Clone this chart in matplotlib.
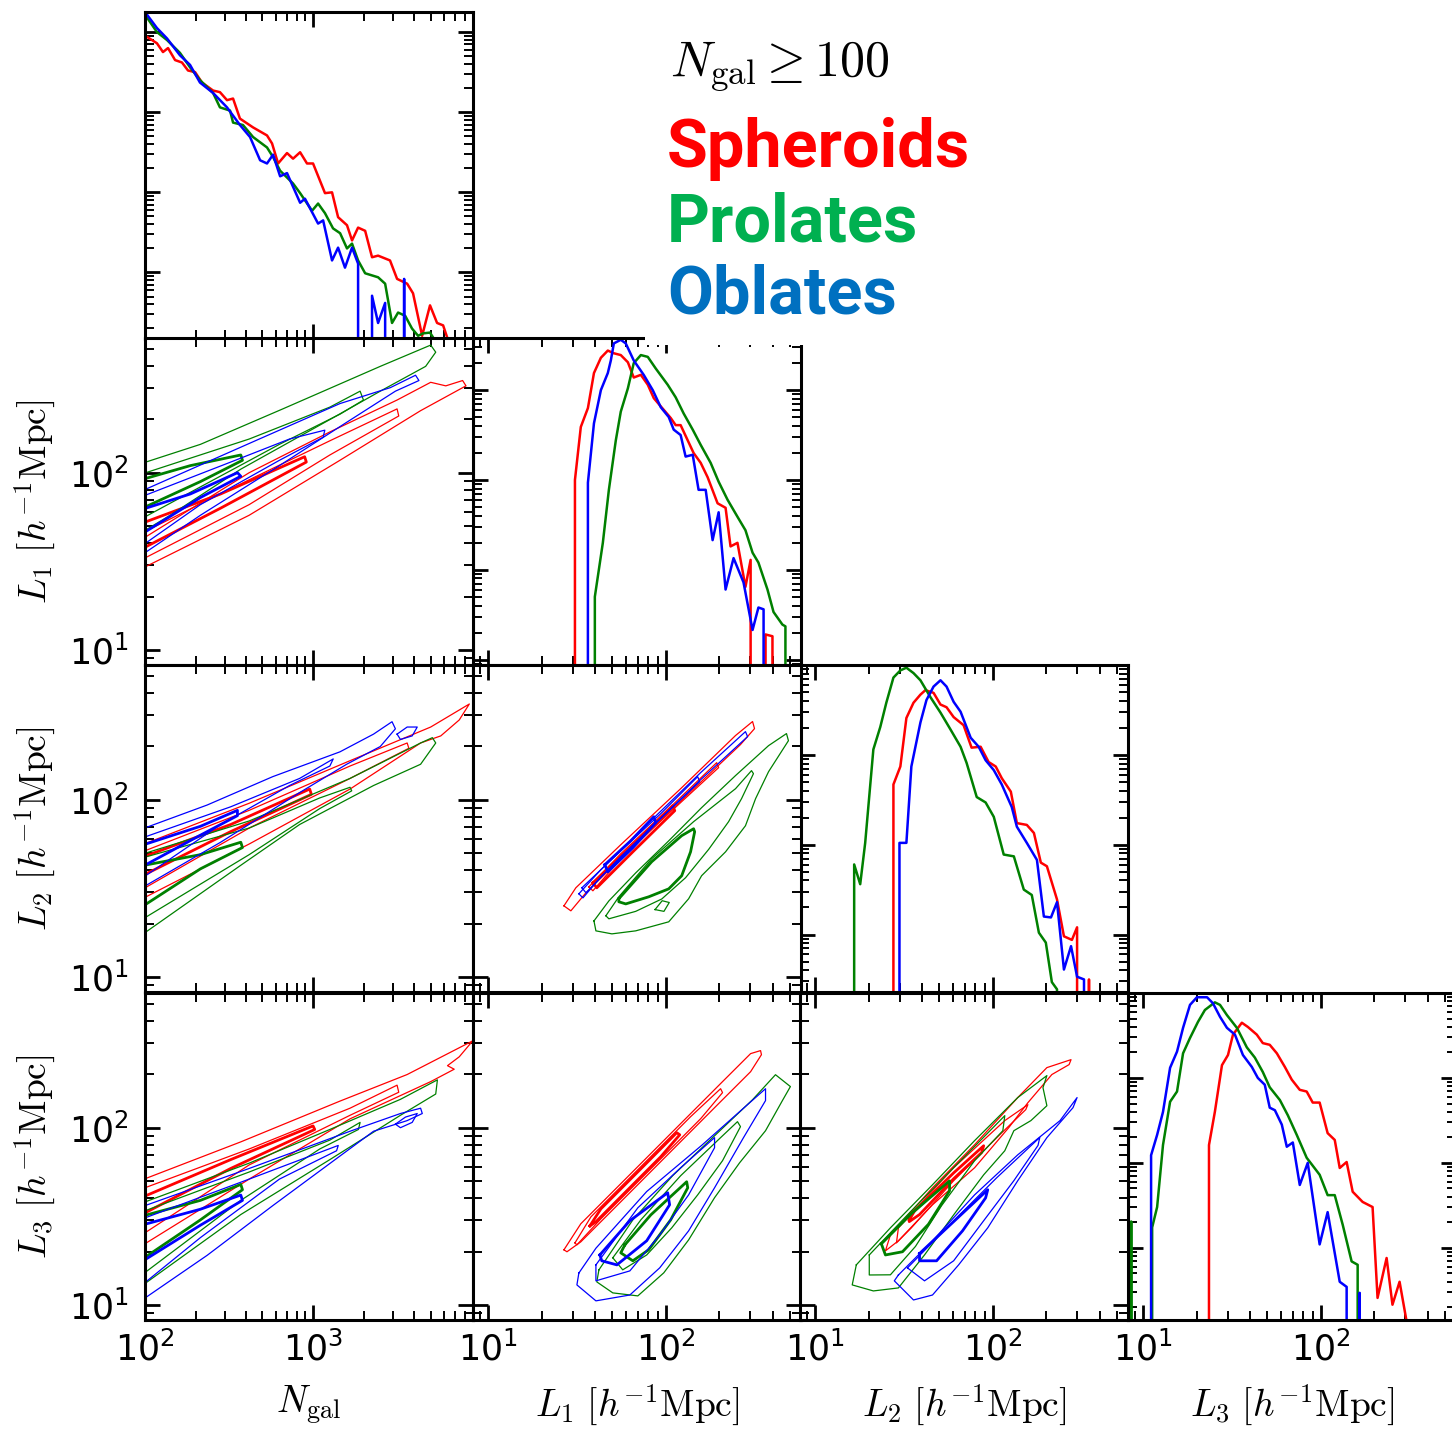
import numpy as np
import matplotlib.pyplot as plt
from matplotlib.patches import Rectangle
from matplotlib.ticker import LogLocator, NullFormatter

E = -np.inf  # log10 of an empty bin

# ---------------- 1D distributions (log10 bin centre, log10 density) ----------------
ngal_x_red = [2.012, 2.071, 2.107, 2.137, 2.179, 2.220, 2.256, 2.298, 2.339, 2.405, 2.446, 2.488,
              2.524, 2.565, 2.643, 2.726, 2.756, 2.792, 2.845, 2.881, 2.923, 2.964, 3.000, 3.071,
              3.113, 3.149, 3.202, 3.232, 3.268, 3.310, 3.351, 3.387, 3.458, 3.500, 3.560, 3.595,
              3.649, 3.696, 3.738, 3.774, 3.798, 3.83]
ngal_y_red = [-0.06, -0.14, -0.25, -0.20, -0.35, -0.38, -0.48, -0.50, -0.63, -0.73, -0.75, -0.85,
              -0.83, -1.08, -1.19, -1.29, -1.39, -1.64, -1.51, -1.58, -1.50, -1.64, -1.64, -2.01,
              -2.00, -2.31, -2.41, -2.60, -2.44, -2.48, -2.81, -2.79, -2.85, -3.08, -3.14, -3.26,
              -3.79, -3.41, -3.63, -3.66, -3.81, E]
ngal_x_green = [2.012, 2.071, 2.131, 2.208, 2.268, 2.327, 2.405, 2.446, 2.506, 2.524, 2.583, 2.643,
                2.726, 2.762, 2.804, 2.881, 2.923, 2.994, 3.030, 3.071, 3.119, 3.161, 3.202, 3.232,
                3.268, 3.310, 3.387, 3.429, 3.470, 3.506, 3.548, 3.589, 3.625, 3.655, 3.696, 3.714, 3.75]
ngal_y_green = [0.18, 0.0, -0.10, -0.26, -0.44, -0.60, -0.76, -0.94, -0.98, -1.13, -1.16, -1.31,
                -1.44, -1.56, -1.73, -1.89, -2.01, -2.23, -2.14, -2.26, -2.45, -2.51, -2.70, -2.64,
                -2.85, -3.01, -3.06, -3.14, -3.63, -3.50, -3.54, -3.70, -3.79, -3.76, -3.75, -3.81, E]
ngal_x_blue = [2.0, 2.071, 2.131, 2.208, 2.268, 2.327, 2.405, 2.488, 2.565, 2.625, 2.685, 2.726,
               2.762, 2.804, 2.845, 2.923, 2.952, 3.030, 3.060, 3.113, 3.149, 3.190, 3.232, 3.268,
               3.310, 3.351, 3.387, 3.429, 3.470, 3.506, 3.542, 3.583]
ngal_y_blue = [0.25, 0.05, -0.08, -0.29, -0.41, -0.63, -0.76, -0.94, -1.16, -1.31, -1.60, -1.64,
               -1.53, -1.80, -1.76, -2.13, -2.08, -2.39, -2.35, -2.85, -2.69, -2.94, -2.69, -2.89,
               E, -3.29, -3.63, -3.38, E, E, -3.08, E]

l1_x_red = [1.450, 1.489, 1.522, 1.562, 1.596, 1.635, 1.674, 1.708, 1.747, 1.787, 1.820, 1.860,
            1.899, 1.933, 1.989, 2.028, 2.056, 2.084, 2.124, 2.157, 2.197, 2.236, 2.292, 2.337,
            2.365, 2.404, 2.449, 2.478, 2.511, 2.530, 2.562, 2.601, 2.640]
l1_y_red = [E, -1.00, -0.41, -0.20, 0.19, 0.36, 0.44, 0.41, 0.39, 0.31, 0.14, 0.17,
            0.06, -0.09, -0.22, -0.31, -0.39, -0.39, -0.56, -0.70, -0.81, -0.97, -1.26, -1.31,
            -1.74, -1.70, -2.19, -1.89, E, E, -2.72, -2.74, E]
l1_x_green = [1.567, 1.601, 1.646, 1.680, 1.719, 1.747, 1.787, 1.820, 1.860, 1.899, 1.944, 2.011,
              2.056, 2.101, 2.152, 2.197, 2.253, 2.298, 2.348, 2.404, 2.449, 2.489, 2.522, 2.573,
              2.607, 2.657, 2.674, 2.71]
l1_y_green = [E, -2.30, -1.70, -1.11, -0.56, -0.24, 0.02, 0.30, 0.39, 0.37, 0.24, 0.06,
              -0.08, -0.26, -0.44, -0.61, -0.81, -1.02, -1.22, -1.41, -1.56, -1.81, -1.92, -2.22,
              -2.47, -2.61, -2.63, E]
l1_x_blue = [1.52, 1.562, 1.596, 1.635, 1.674, 1.691, 1.708, 1.747, 1.775, 1.820, 1.876, 1.927,
             1.972, 2.017, 2.045, 2.084, 2.112, 2.152, 2.185, 2.225, 2.264, 2.298, 2.337, 2.382,
             2.438, 2.489, 2.522, 2.551, 2.59]
l1_y_blue = [E, -1.03, -0.37, 0.0, 0.19, 0.33, 0.52, 0.56, 0.52, 0.33, 0.17, 0.0,
             -0.19, -0.30, -0.44, -0.50, -0.74, -0.72, -1.11, -1.11, -1.67, -1.36, -2.22, -1.87,
             -2.14, -2.67, -2.42, -2.44, E]

l2_x_red = [1.407, 1.441, 1.480, 1.514, 1.554, 1.593, 1.621, 1.667, 1.706, 1.740, 1.780, 1.836,
            1.881, 1.932, 1.977, 2.017, 2.051, 2.102, 2.136, 2.192, 2.232, 2.271, 2.305, 2.362,
            2.401, 2.446, 2.475, 2.508, 2.525, 2.542, 2.576]
l2_y_red = [E, -1.33, -1.13, -0.59, -0.42, -0.33, -0.28, -0.31, -0.44, -0.47, -0.58, -0.67,
            -0.92, -0.91, -1.08, -1.13, -1.26, -1.41, -1.76, -1.78, -1.87, -2.20, -2.24, -2.61,
            -3.02, -3.06, -2.92, E, E, -3.50, E]
l2_x_green = [1.186, 1.220, 1.254, 1.282, 1.328, 1.367, 1.401, 1.441, 1.480, 1.514, 1.554, 1.593,
              1.650, 1.706, 1.763, 1.819, 1.853, 1.910, 1.960, 2.006, 2.062, 2.119, 2.175, 2.220,
              2.260, 2.299, 2.333, 2.362, 2.395]
l2_y_green = [E, -2.22, -2.44, -1.98, -0.94, -0.69, -0.42, -0.14, -0.06, -0.03, -0.09, -0.17,
              -0.36, -0.53, -0.72, -0.91, -1.09, -1.47, -1.53, -1.69, -2.11, -2.13, -2.50, -2.56,
              -2.98, -3.09, -3.53, -3.61, E]
l2_x_blue = [1.441, 1.475, 1.514, 1.542, 1.593, 1.627, 1.667, 1.706, 1.740, 1.780, 1.819, 1.876,
             1.921, 1.960, 2.006, 2.051, 2.107, 2.136, 2.192, 2.249, 2.288, 2.328, 2.362, 2.401,
             2.441, 2.475, 2.514, 2.548]
l2_y_blue = [E, -1.98, -1.98, -1.13, -0.64, -0.39, -0.24, -0.17, -0.24, -0.41, -0.52, -0.81,
             -0.91, -1.06, -1.17, -1.33, -1.58, -1.80, -1.98, -2.17, -2.80, -2.81, -2.64, -3.39,
             -3.13, -3.47, -3.50, E]

l3_x_red = [1.337, 1.371, 1.404, 1.444, 1.478, 1.506, 1.556, 1.590, 1.640, 1.674, 1.713, 1.753,
            1.798, 1.837, 1.882, 1.921, 1.955, 1.994, 2.039, 2.079, 2.107, 2.146, 2.180, 2.236,
            2.292, 2.320, 2.371, 2.404, 2.444, 2.483, 2.52]
l3_y_red = [E, -1.79, -1.40, -0.85, -0.73, -0.49, -0.35, -0.40, -0.49, -0.59, -0.61, -0.71,
            -0.87, -1.02, -1.14, -1.16, -1.29, -1.29, -1.65, -1.73, -2.06, -1.99, -2.34, -2.46,
            -2.52, -3.59, -3.12, -3.67, -3.40, -3.86, E]
l3_x_green = [0.899, 0.933, 0.972, 1.011, 1.051, 1.079, 1.112, 1.152, 1.191, 1.225, 1.264, 1.309,
              1.348, 1.404, 1.433, 1.472, 1.528, 1.584, 1.629, 1.674, 1.713, 1.770, 1.815, 1.865,
              1.921, 1.994, 2.039, 2.079, 2.124, 2.174, 2.208, 2.242]
l3_y_green = [E, -2.69, E, E, -2.76, -2.52, -1.79, -1.28, -1.16, -0.71, -0.53, -0.34,
              -0.20, -0.11, -0.14, -0.26, -0.41, -0.64, -0.76, -0.93, -1.11, -1.26, -1.44, -1.67,
              -1.94, -2.14, -2.38, -2.38, -2.73, -3.16, -3.20, E]
l3_x_blue = [1.011, 1.045, 1.079, 1.112, 1.152, 1.191, 1.225, 1.264, 1.303, 1.360, 1.393, 1.433,
             1.472, 1.517, 1.562, 1.612, 1.646, 1.685, 1.713, 1.742, 1.781, 1.809, 1.843, 1.882,
             1.927, 1.994, 2.039, 2.107, 2.146, 2.180, 2.219, 2.253]
l3_y_blue = [E, -1.91, -1.67, -1.40, -0.88, -0.69, -0.41, -0.14, -0.05, -0.05, -0.12, -0.28,
             -0.41, -0.49, -0.73, -0.87, -1.00, -1.08, -1.35, -1.38, -1.55, -1.81, -1.76, -2.26,
             -2.00, -2.96, -2.58, -3.40, -3.46, E, -3.53, E]

# ---------------- 2D contours: closed loops in (log10 x, log10 y) ----------------
# loops are listed outermost first; the last one in each list is the thick 1-sigma level
ngal_l1_red = [
    [(1.94, 1.60), (2.62, 2.00), (3.10, 2.23), (3.50, 2.41), (3.70, 2.51), (3.79, 2.49), (3.89, 2.52),
     (3.91, 2.49), (3.64, 2.35), (3.16, 2.07), (2.62, 1.76), (1.94, 1.44)],
    [(1.94, 1.64), (2.62, 1.96), (3.10, 2.18), (3.50, 2.36), (3.51, 2.32), (3.10, 2.10), (2.62, 1.82),
     (1.94, 1.49)],
    [(1.94, 1.70), (2.45, 1.88), (2.95, 2.09), (2.96, 2.06), (2.45, 1.80), (1.94, 1.55)],
]
ngal_l1_green = [
    [(1.94, 2.04), (2.33, 2.16), (2.82, 2.36), (3.40, 2.60), (3.70, 2.72), (3.73, 2.68), (3.67, 2.60),
     (3.40, 2.46), (3.10, 2.30), (2.57, 2.02), (2.15, 1.76), (1.94, 1.64)],
    [(1.94, 1.98), (2.62, 2.19), (3.10, 2.37), (3.28, 2.46), (3.30, 2.41), (3.16, 2.33), (2.80, 2.16),
     (2.33, 1.92), (1.94, 1.72)],
    [(1.94, 1.95), (2.27, 2.04), (2.57, 2.10), (2.58, 2.07), (2.33, 1.95), (1.94, 1.78)],
]
ngal_l1_blue = [
    [(1.94, 1.88), (2.68, 2.19), (3.16, 2.39), (3.46, 2.48), (3.61, 2.55), (3.63, 2.52), (3.49, 2.46),
     (3.16, 2.26), (2.80, 2.04), (2.33, 1.76), (1.94, 1.51)],
    [(1.94, 1.85), (2.51, 2.06), (2.86, 2.19), (3.07, 2.24), (3.06, 2.20), (2.80, 2.07), (2.33, 1.82),
     (1.94, 1.56)],
    [(1.94, 1.78), (2.27, 1.88), (2.55, 2.00), (2.57, 1.98), (2.33, 1.86), (1.94, 1.63)],
]

ngal_l2_red = [
    [(1.94, 1.73), (2.62, 1.98), (3.22, 2.22), (3.70, 2.41), (3.93, 2.54), (3.87, 2.45), (3.76, 2.36),
     (3.64, 2.32), (3.22, 2.06), (2.62, 1.75), (1.94, 1.42)],
    [(1.94, 1.69), (2.62, 1.94), (3.22, 2.19), (3.56, 2.32), (3.57, 2.29), (3.22, 2.12), (2.62, 1.84),
     (1.94, 1.47)],
    [(1.94, 1.66), (2.51, 1.86), (2.98, 2.06), (2.99, 2.03), (2.51, 1.82), (1.94, 1.55)],
]
ngal_l2_green = [
    [(1.94, 1.68), (2.62, 1.88), (3.22, 2.12), (3.64, 2.32), (3.71, 2.35), (3.73, 2.32), (3.64, 2.20),
     (3.36, 2.08), (2.92, 1.86), (2.57, 1.63), (1.94, 1.21)],
    [(1.94, 1.66), (2.62, 1.84), (3.04, 2.01), (3.22, 2.07), (3.23, 2.05), (3.04, 1.95), (2.62, 1.69),
     (1.94, 1.30)],
    [(1.94, 1.62), (2.33, 1.69), (2.57, 1.76), (2.58, 1.73), (2.33, 1.61), (1.94, 1.37)],
]
ngal_l2_blue = [
    [(3.50, 2.37), (3.56, 2.41), (3.62, 2.41), (3.59, 2.36), (3.52, 2.34)],
    [(1.94, 1.82), (2.37, 1.97), (2.76, 2.13), (3.16, 2.27), (3.36, 2.37), (3.47, 2.44), (3.49, 2.40),
     (3.40, 2.30), (3.20, 2.20), (2.92, 2.04), (2.45, 1.76), (1.94, 1.48)],
    [(1.94, 1.77), (2.51, 1.96), (2.92, 2.12), (3.12, 2.23), (3.10, 2.19), (2.86, 2.08), (2.45, 1.86),
     (1.94, 1.53)],
    [(1.94, 1.73), (2.33, 1.85), (2.55, 1.94), (2.55, 1.91), (2.33, 1.80), (1.94, 1.60)],
]

ngal_l3_red = [
    [(1.94, 1.69), (2.57, 1.92), (3.16, 2.15), (3.56, 2.30), (3.95, 2.49), (3.87, 2.40), (3.80, 2.35),
     (3.84, 2.33), (3.70, 2.26), (3.22, 2.05), (2.62, 1.71), (1.94, 1.31)],
    [(1.94, 1.64), (2.62, 1.88), (3.22, 2.11), (3.50, 2.24), (3.51, 2.20), (3.22, 2.07), (2.62, 1.79),
     (1.94, 1.37)],
    [(1.94, 1.59), (2.51, 1.82), (3.00, 2.01), (3.01, 1.99), (2.51, 1.77), (1.94, 1.49)],
]
ngal_l3_green = [
    [(1.94, 1.56), (2.62, 1.80), (3.10, 1.99), (3.52, 2.16), (3.74, 2.27), (3.73, 2.19), (3.52, 2.07),
     (3.10, 1.82), (2.57, 1.51), (1.94, 1.08)],
    [(1.94, 1.51), (2.62, 1.75), (3.10, 1.93), (3.28, 2.03), (3.27, 1.99), (3.04, 1.88), (2.57, 1.59),
     (1.94, 1.14)],
    [(1.94, 1.49), (2.33, 1.59), (2.57, 1.68), (2.58, 1.65), (2.33, 1.48), (1.94, 1.23)],
]
ngal_l3_blue = [
    [(3.49, 2.02), (3.55, 2.06), (3.62, 2.08), (3.59, 2.03), (3.52, 2.00)],
    [(1.94, 1.54), (2.62, 1.77), (3.22, 1.98), (3.52, 2.08), (3.64, 2.11), (3.65, 2.08), (3.56, 2.04),
     (3.36, 1.98), (3.16, 1.84), (2.76, 1.56), (2.37, 1.28), (1.94, 1.00)],
    [(1.94, 1.47), (2.62, 1.71), (3.15, 1.90), (3.14, 1.87), (2.80, 1.71), (2.33, 1.38), (1.94, 1.08)],
    [(1.94, 1.44), (2.33, 1.54), (2.57, 1.62), (2.58, 1.59), (2.33, 1.45), (1.94, 1.22)],
]

l1_l2_red = [
    [(1.427, 1.401), (1.494, 1.503), (1.747, 1.746), (2.084, 2.062), (2.393, 2.362), (2.489, 2.441),
     (2.500, 2.401), (2.421, 2.311), (2.140, 2.045), (1.803, 1.723), (1.551, 1.475), (1.466, 1.373)],
    [(1.567, 1.508), (1.747, 1.695), (2.028, 1.960), (2.287, 2.209), (2.298, 2.181), (2.028, 1.932),
     (1.747, 1.667), (1.590, 1.486)],
    [(1.590, 1.531), (1.803, 1.734), (2.039, 1.966), (2.051, 1.938), (1.815, 1.706), (1.612, 1.503)],
]
l1_l2_green = [
    [(1.94, 1.38), (1.98, 1.43), (2.02, 1.42), (1.99, 1.37)],
    [(1.596, 1.316), (1.680, 1.429), (1.831, 1.587), (2.017, 1.768), (2.202, 1.955), (2.393, 2.136),
     (2.579, 2.305), (2.680, 2.373), (2.691, 2.333), (2.579, 2.158), (2.506, 2.006), (2.449, 1.853),
     (2.337, 1.706), (2.202, 1.571), (2.129, 1.441), (2.017, 1.311), (1.831, 1.260), (1.697, 1.243),
     (1.607, 1.260)],
    [(1.663, 1.345), (1.736, 1.452), (1.921, 1.667), (2.157, 1.876), (2.393, 2.062), (2.483, 2.164),
     (2.494, 2.147), (2.427, 2.006), (2.354, 1.876), (2.242, 1.720), (2.112, 1.560), (1.978, 1.440),
     (1.831, 1.370), (1.680, 1.328)],
    [(1.736, 1.441), (1.921, 1.650), (2.090, 1.797), (2.157, 1.836), (2.163, 1.819), (2.140, 1.706),
     (2.090, 1.571), (2.017, 1.497), (1.904, 1.452), (1.775, 1.412), (1.736, 1.424)],
]
l1_l2_blue = [
    [(1.511, 1.469), (1.635, 1.605), (1.916, 1.881), (2.197, 2.153), (2.449, 2.384), (2.461, 2.356),
     (2.197, 2.113), (1.916, 1.842), (1.635, 1.565), (1.534, 1.446)],
    [(1.528, 1.503), (1.747, 1.712), (1.972, 1.921), (2.180, 2.130), (2.191, 2.102), (1.972, 1.893),
     (1.747, 1.678), (1.551, 1.475)],
    [(1.657, 1.633), (1.803, 1.768), (1.933, 1.904), (1.944, 1.870), (1.815, 1.729), (1.674, 1.593)],
]

l1_l3_red = [
    [(1.427, 1.311), (1.522, 1.458), (1.747, 1.684), (2.084, 2.023), (2.309, 2.249), (2.478, 2.418),
     (2.534, 2.435), (2.539, 2.412), (2.478, 2.316), (2.309, 2.147), (2.084, 1.921), (1.747, 1.582),
     (1.522, 1.356), (1.444, 1.300)],
    [(1.489, 1.350), (1.579, 1.497), (1.860, 1.780), (2.140, 2.062), (2.309, 2.220), (2.320, 2.198),
     (2.197, 2.051), (1.916, 1.768), (1.635, 1.486), (1.500, 1.339)],
    [(1.573, 1.446), (1.635, 1.542), (1.860, 1.768), (2.062, 1.972), (2.079, 1.960), (1.972, 1.836),
     (1.747, 1.610), (1.607, 1.469)],
]
l1_l3_green = [
    [(1.624, 1.198), (1.815, 1.480), (2.039, 1.729), (2.264, 1.944), (2.489, 2.158), (2.618, 2.299),
     (2.702, 2.232), (2.657, 2.153), (2.562, 1.983), (2.416, 1.802), (2.275, 1.605), (2.129, 1.367),
     (1.989, 1.181), (1.843, 1.051), (1.702, 1.068), (1.612, 1.130)],
    [(1.702, 1.266), (1.860, 1.480), (2.084, 1.729), (2.309, 1.944), (2.404, 2.034), (2.421, 2.006),
     (2.320, 1.814), (2.180, 1.621), (2.034, 1.435), (1.893, 1.282), (1.758, 1.198)],
    [(1.770, 1.339), (1.916, 1.508), (2.118, 1.695), (2.124, 1.661), (2.028, 1.480), (1.904, 1.311),
     (1.815, 1.249), (1.747, 1.294)],
]
l1_l3_blue = [
    [(1.511, 1.180), (1.607, 1.320), (1.893, 1.640), (2.202, 1.900), (2.438, 2.110), (2.562, 2.220),
     (2.562, 2.153), (2.438, 1.944), (2.275, 1.661), (2.129, 1.418), (1.966, 1.209), (1.798, 1.056),
     (1.607, 1.023), (1.500, 1.113)],
    [(1.607, 1.226), (1.843, 1.548), (2.084, 1.774), (2.275, 1.944), (2.275, 1.887), (2.129, 1.621),
     (1.966, 1.395), (1.798, 1.192), (1.607, 1.136)],
    [(1.629, 1.282), (1.798, 1.475), (2.011, 1.633), (2.022, 1.565), (1.893, 1.362), (1.725, 1.226),
     (1.640, 1.249)],
]

l2_l3_red = [
    [(1.424, 1.395), (1.661, 1.661), (1.898, 1.904), (2.141, 2.170), (2.305, 2.339), (2.441, 2.384),
     (2.430, 2.356), (2.333, 2.300), (2.198, 2.141), (2.090, 2.000), (1.898, 1.774), (1.661, 1.565),
     (1.469, 1.362), (1.396, 1.305)],
    [(1.469, 1.435), (1.780, 1.774), (2.068, 2.040), (2.198, 2.130), (2.186, 2.102), (2.023, 1.944),
     (1.780, 1.701), (1.542, 1.435), (1.458, 1.350)],
    [(1.530, 1.480), (1.560, 1.530), (1.780, 1.745), (1.949, 1.898), (1.938, 1.860), (1.780, 1.712),
     (1.588, 1.510), (1.530, 1.470)],
]
l2_l3_green = [
    [(1.232, 1.226), (1.424, 1.435), (1.661, 1.678), (1.898, 1.927), (2.141, 2.170), (2.305, 2.294),
     (2.283, 2.226), (2.305, 2.124), (2.215, 2.040), (2.119, 1.983), (2.068, 1.870), (1.949, 1.734),
     (1.780, 1.508), (1.616, 1.282), (1.469, 1.096), (1.328, 1.079), (1.209, 1.113)],
    [(1.305, 1.282), (1.542, 1.531), (1.780, 1.774), (2.068, 2.068), (2.057, 1.983), (1.898, 1.814),
     (1.712, 1.560), (1.565, 1.330), (1.424, 1.170), (1.305, 1.169)],
    [(1.373, 1.345), (1.542, 1.515), (1.757, 1.700), (1.757, 1.644), (1.638, 1.455), (1.492, 1.300),
     (1.396, 1.282)],
]
l2_l3_blue = [
    [(1.469, 1.169), (1.661, 1.362), (1.898, 1.621), (2.141, 1.847), (2.379, 2.040), (2.475, 2.170),
     (2.452, 2.113), (2.305, 1.944), (2.141, 1.701), (1.972, 1.435), (1.808, 1.226), (1.661, 1.056),
     (1.554, 1.028), (1.446, 1.136)],
    [(1.520, 1.209), (1.780, 1.475), (2.023, 1.718), (2.265, 1.945), (2.255, 1.900), (2.119, 1.701),
     (1.949, 1.475), (1.780, 1.249), (1.616, 1.136)],
    [(1.588, 1.290), (1.780, 1.470), (1.972, 1.650), (1.960, 1.604), (1.830, 1.418), (1.684, 1.249),
     (1.588, 1.249)],
]

# ---------------- styling ----------------
RED, GREEN, BLUE = "#ff0000", "#008000", "#0000ff"

plt.rcParams.update({
    "axes.linewidth": 2.2,
    "xtick.direction": "in", "ytick.direction": "in",
    "xtick.top": True, "ytick.right": True,
    "xtick.major.size": 11, "ytick.major.size": 11,
    "xtick.major.width": 2.0, "ytick.major.width": 2.0,
    "xtick.minor.size": 6.5, "ytick.minor.size": 6.5,
    "xtick.minor.width": 1.4, "ytick.minor.width": 1.4,
    "xtick.labelsize": 25, "ytick.labelsize": 25,
    "xtick.major.pad": 8, "ytick.major.pad": 12,
})

NGAL_LIM = (10 ** 2.0, 10 ** 3.95)
L_LIM = (10 ** 0.915, 10 ** 2.76)

fig = plt.figure(figsize=(14.52, 14.31), dpi=100)
FW, FH = 1452.0, 1431.0
COL_X = [145, 473, 800, 1128]
ROW_Y = [12, 338, 665, 993]
PW, PH = 327.7, 327.0


def make_panel(r, c):
    ax = fig.add_axes([COL_X[c] / FW, 1 - (ROW_Y[r] + PH) / FH, PW / FW, PH / FH])
    ax.set_xscale("log")
    ax.set_yscale("log")
    for axis in (ax.xaxis, ax.yaxis):
        axis.set_major_locator(LogLocator(base=10, numticks=20))
        axis.set_minor_locator(LogLocator(base=10, subs=np.arange(2, 10), numticks=60))
        axis.set_minor_formatter(NullFormatter())
    ax.tick_params(which="both", labelbottom=(r == 3), labelleft=(c == 0 and r > 0),
                   labeltop=False, labelright=False)
    ax.set_xlim(NGAL_LIM if c == 0 else L_LIM)
    return ax


def draw_hist(ax, x, y, color):
    ax.plot(10 ** np.asarray(x), 10 ** np.asarray(y), color=color, lw=1.8)


def draw_contours(ax, loops, color):
    for i, loop in enumerate(loops):
        pts = np.asarray(loop + loop[:1])
        thick = i == len(loops) - 1
        ax.plot(10 ** pts[:, 0], 10 ** pts[:, 1], color=color, lw=2.0 if thick else 0.9)


# diagonal: one-dimensional distributions
diag = [
    ((ngal_x_red, ngal_y_red), (ngal_x_green, ngal_y_green), (ngal_x_blue, ngal_y_blue), (-3.83, 0.25)),
    ((l1_x_red, l1_y_red), (l1_x_green, l1_y_green), (l1_x_blue, l1_y_blue), (-3.06, 0.58)),
    ((l2_x_red, l2_y_red), (l2_x_green, l2_y_green), (l2_x_blue, l2_y_blue), (-3.64, 0.0)),
    ((l3_x_red, l3_y_red), (l3_x_green, l3_y_green), (l3_x_blue, l3_y_blue), (-3.85, 0.0)),
]
for k, (red, green, blue, ylog) in enumerate(diag):
    ax = make_panel(k, k)
    for (x, y), col in zip((red, green, blue), (RED, GREEN, BLUE)):
        draw_hist(ax, x, y, col)
    ax.set_ylim(10 ** ylog[0], 10 ** ylog[1])
    ax.tick_params(which="both", labelleft=False)

# lower triangle: two-dimensional contours
pairs = {
    (1, 0): (ngal_l1_red, ngal_l1_green, ngal_l1_blue),
    (2, 0): (ngal_l2_red, ngal_l2_green, ngal_l2_blue),
    (3, 0): (ngal_l3_red, ngal_l3_green, ngal_l3_blue),
    (2, 1): (l1_l2_red, l1_l2_green, l1_l2_blue),
    (3, 1): (l1_l3_red, l1_l3_green, l1_l3_blue),
    (3, 2): (l2_l3_red, l2_l3_green, l2_l3_blue),
}
for (r, c), sets in pairs.items():
    ax = make_panel(r, c)
    for loops, col in zip(sets, (RED, GREEN, BLUE)):
        draw_contours(ax, loops, col)
    ax.set_ylim(L_LIM)

# axis titles
xlabels = [r"$N_{\rm gal}$", r"$L_1\ [h^{-1}{\rm Mpc}]$",
           r"$L_2\ [h^{-1}{\rm Mpc}]$", r"$L_3\ [h^{-1}{\rm Mpc}]$"]
for c, lab in enumerate(xlabels):
    fig.text((COL_X[c] + PW / 2) / FW, 1 - 1405 / FH, lab, fontsize=27,
             math_fontfamily="cm", ha="center", va="center")
for r, lab in zip((1, 2, 3), xlabels[1:]):
    fig.text(35 / FW, 1 - (ROW_Y[r] + PH / 2) / FH, lab, fontsize=27, rotation=90,
             math_fontfamily="cm", ha="center", va="center")

# legend block
fig.add_artist(Rectangle((645 / FW, 1 - 345 / FH), 355 / FW, 325 / FH,
                         transform=fig.transFigure, facecolor="white",
                         edgecolor="none", zorder=5))
fig.text(670 / FW, 1 - 75 / FH, r"$N_{\rm gal} \geq 100$", fontsize=36,
         math_fontfamily="cm", va="baseline", zorder=6)
for name, col, base in (("Spheroids", "#ff0000", 167), ("Prolates", "#00b050", 242),
                        ("Oblates", "#0070c0", 313)):
    fig.text(667 / FW, 1 - base / FH, name, color=col, fontsize=48, fontweight="bold",
             family="Roboto", va="baseline", zorder=6)

fig.savefig("out.png", dpi=100)
